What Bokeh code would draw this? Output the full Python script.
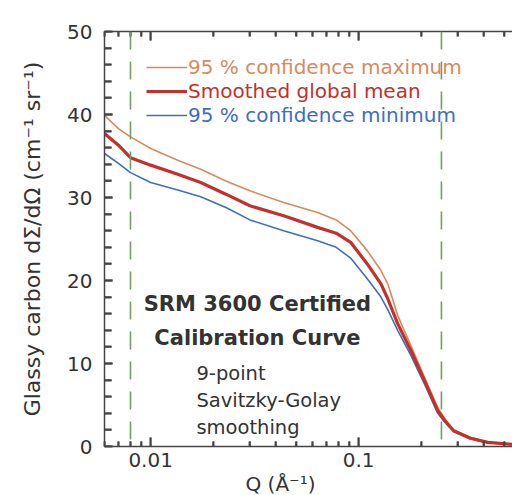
import math
from bokeh.plotting import figure
from bokeh.models import (LogAxis, Range1d, FixedTicker, Legend, LegendItem, Label, Span,
                          Title, CustomJSTickFormatter, ColumnDataSource)
from bokeh.embed import file_html
from bokeh.resources import INLINE

# ---- data ----
q = [0.006, 0.007, 0.008, 0.01, 0.0135, 0.0174, 0.023, 0.030, 0.0436, 0.0635, 0.078,
     0.0915, 0.110, 0.128, 0.138, 0.154, 0.178, 0.21, 0.24, 0.26, 0.286, 0.345, 0.417, 0.52, 0.6]
conf_max = [39.9, 38.3, 37.3, 35.9, 34.5, 33.4, 32.0, 30.8, 29.4, 28.2, 27.3,
            26.0, 23.6, 21.2, 19.6, 15.8, 12.2, 8.0, 4.7, 3.3, 2.0, 1.1, 0.55, 0.35, 0.25]
mean = [37.7, 36.3, 34.8, 33.9, 32.8, 31.8, 30.4, 29.0, 27.8, 26.4, 25.7,
        24.6, 22.0, 19.6, 17.8, 14.8, 11.6, 7.6, 4.3, 3.1, 1.9, 1.0, 0.5, 0.3, 0.22]
conf_min = [35.3, 34.1, 33.0, 31.8, 30.9, 30.1, 28.8, 27.3, 26.0, 24.8, 24.0,
            22.7, 20.2, 18.0, 16.5, 14.0, 11.0, 7.2, 4.0, 2.9, 1.8, 0.9, 0.45, 0.28, 0.2]
q_limits = [0.008, 0.25]
series_names = ["95 % confidence maximum", "Smoothed global mean", "95 % confidence minimum"]

x_major = [0.01, 0.1]
x_minor = [0.006, 0.007, 0.008, 0.009, 0.02, 0.03, 0.04, 0.05, 0.06, 0.07, 0.08, 0.09,
           0.2, 0.3, 0.4, 0.5]
x_labels = {0.01: "0.01", 0.1: "0.1"}
y_major = [0, 10, 20, 30, 40, 50]
y_minor = [v for v in range(2, 50, 2) if v % 10 != 0]

X_START, X_END = 0.006, 0.549
Y_START, Y_END = 0, 50

FONT = "DejaVu Sans"
AXC = "#444444"
TXT = "#333333"
C_MAX = "#D88A5C"
C_MEAN = "#C4302B"
C_MIN = "#3E6EC2"
C_DASH = "#6FA063"

W, H = 512, 495
BL, BR, BT, BB = 104, 0, 31, 49
FRAME_W = W - BL - BR
FRAME_H = H - BT - BB

p = figure(width=W, height=H, x_axis_type="log",
           x_range=Range1d(X_START, X_END), y_range=Range1d(Y_START, Y_END),
           output_backend="svg", toolbar_location=None,
           min_border_left=BL, min_border_right=BR, min_border_top=BT, min_border_bottom=BB)
p.outline_line_color = None
p.grid.visible = False
p.background_fill_color = "white"
p.border_fill_color = "white"

def style_axis(ax, tin_major, tin_minor):
    ax.axis_line_color = AXC
    ax.axis_line_width = 1.5
    ax.major_tick_line_color = AXC
    ax.minor_tick_line_color = AXC
    ax.major_tick_line_width = 1.8
    ax.minor_tick_line_width = 1.8
    ax.major_tick_out = 0
    ax.minor_tick_out = 0
    ax.major_tick_in = tin_major
    ax.minor_tick_in = tin_minor

style_axis(p.xaxis[0], 9, 5)
style_axis(p.yaxis[0], 8, 7)
for ax in (p.xaxis[0], p.yaxis[0]):
    ax.major_label_text_font = FONT
    ax.major_label_text_font_size = "20px"
    ax.major_label_text_color = TXT

p.xaxis[0].ticker = FixedTicker(ticks=x_major, minor_ticks=x_minor)
p.xaxis[0].major_label_overrides = x_labels
p.xaxis[0].major_label_standoff = 6

p.yaxis[0].ticker = FixedTicker(ticks=y_major, minor_ticks=y_minor)
p.yaxis[0].major_label_standoff = 12
p.yaxis[0].axis_label = "Glassy carbon dΣ/dΩ (cm⁻¹ sr⁻¹)"
p.yaxis[0].axis_label_text_font = FONT
p.yaxis[0].axis_label_text_font_size = "22px"
p.yaxis[0].axis_label_text_font_style = "normal"
p.yaxis[0].axis_label_text_color = TXT
p.yaxis[0].axis_label_standoff = 19

top = LogAxis(ticker=FixedTicker(ticks=x_major, minor_ticks=x_minor),
              formatter=CustomJSTickFormatter(code="return ''"))
style_axis(top, 9, 5)
p.add_layout(top, "above")

xt = Title(text="Q (Å⁻¹)", align="left", offset=141, text_font=FONT,
           text_font_size="20px", text_font_style="normal", text_color=TXT, standoff=0)
p.add_layout(xt, "below")

for ql in q_limits:
    p.add_layout(Span(location=ql, dimension="height", line_color=C_DASH,
                      line_width=1.6, line_dash="18 12"))

r_max = p.line(q, conf_max, line_color=C_MAX, line_width=1.6)
r_min = p.line(q, conf_min, line_color=C_MIN, line_width=1.6)
r_mean = p.line(q, mean, line_color=C_MEAN, line_width=3.2)

# inward ticks as a multi_line glyph (pixel lengths converted to data units)
decade_px = FRAME_W / math.log10(X_END / X_START)
def xoff(px):
    return X_START * 10 ** (px / decade_px)
def yoff(px):
    return px * (Y_END - Y_START) / FRAME_H

xs, ys = [], []
for v in y_major:
    xs.append([X_START, xoff(8)]); ys.append([v, v])
for v in y_minor:
    xs.append([X_START, xoff(7)]); ys.append([v, v])
for v in x_major:
    xs.append([v, v]); ys.append([Y_START, yoff(9)])
    xs.append([v, v]); ys.append([Y_END, Y_END - yoff(9)])
for v in x_minor:
    xs.append([v, v]); ys.append([Y_START, yoff(5)])
    xs.append([v, v]); ys.append([Y_END, Y_END - yoff(5)])
p.multi_line(xs=xs, ys=ys, line_color=AXC, line_width=1.8)

for i, (r, col) in enumerate([(r_max, C_MAX), (r_mean, C_MEAN), (r_min, C_MIN)]):
    lg = Legend(items=[LegendItem(label=series_names[i], renderers=[r])],
                location=(42, 367 - 24 * i), padding=0, margin=0,
                glyph_width=41, glyph_height=20, label_height=20, label_standoff=1,
                border_line_color=None, background_fill_alpha=0,
                label_text_font=FONT, label_text_font_size="20px", label_text_color=col)
    p.add_layout(lg, "center")

p.add_layout(Label(x=0.0326, y=17.2, text="SRM 3600 Certified", text_align="center",
                   text_baseline="middle", text_font=FONT, text_font_size="21px",
                   text_font_style="bold", text_color=TXT))
p.add_layout(Label(x=0.0326, y=13.1, text="Calibration Curve", text_align="center",
                   text_baseline="middle", text_font=FONT, text_font_size="21px",
                   text_font_style="bold", text_color=TXT))
for txt, yy in [("9-point", 8.8), ("Savitzky-Golay", 5.5), ("smoothing", 2.3)]:
    p.add_layout(Label(x=0.0166, y=yy, text=txt, text_align="left", text_baseline="middle",
                       text_font=FONT, text_font_size="19.5px", text_color=TXT))

open("out.html", "w").write(file_html(p, INLINE))
